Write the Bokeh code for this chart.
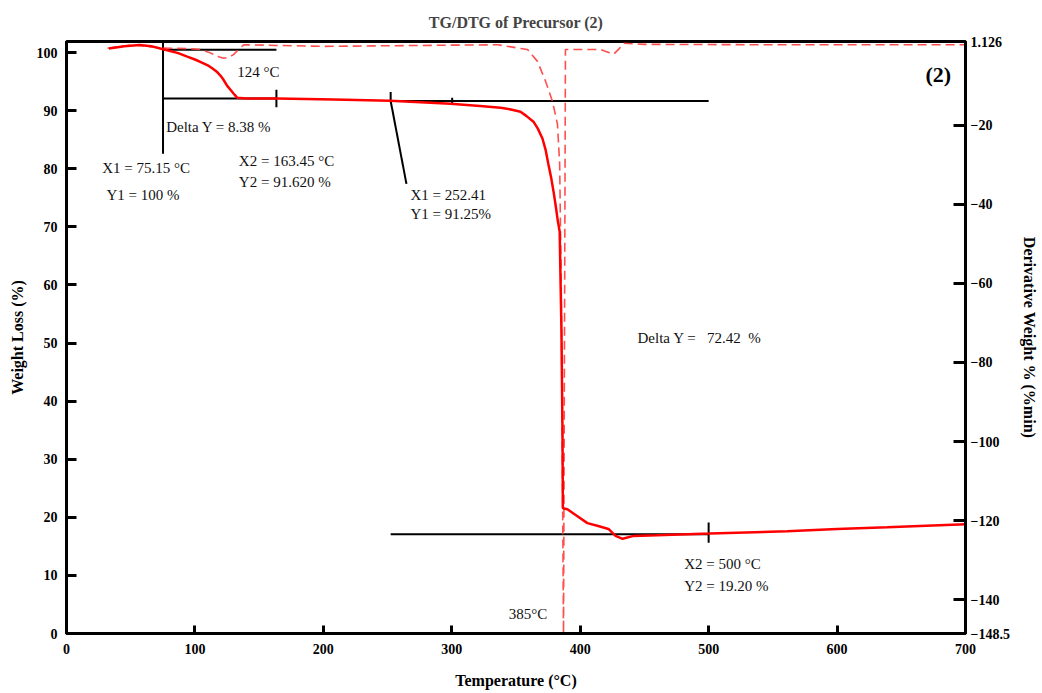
from bokeh.plotting import figure
from bokeh.models import Range1d, LinearAxis, FixedTicker, ColumnDataSource
from bokeh.core.properties import value
from bokeh.embed import file_html
from bokeh.resources import INLINE

# ---------------- data ----------------
# TG curve: temperature (°C) vs weight (%)
tg_temp = [33, 45, 57, 66, 73, 80, 87, 94, 100, 105,
           110, 114, 117, 120, 122, 125, 128, 131, 133, 140,
           164, 208, 252, 299, 322, 338, 346, 353.5, 358, 363.6,
           367, 370.6, 373, 375.3, 377.5, 379.2, 380.8, 382.3, 384, 385.4,
           386.2, 386.5, 387.5, 390, 397, 405.6, 414, 422, 427.5, 433,
           441.5, 460, 483.5, 501, 561, 600, 639, 700]
tg_weight = [100.7, 101.1, 101.3, 101.1, 100.7, 100.3, 99.9, 99.3, 98.8, 98.3,
             97.8, 97.2, 96.7, 96.0, 95.4, 94.3, 93.5, 92.7, 92.2, 92.1,
             92.1, 91.9, 91.7, 91.2, 90.8, 90.5, 90.2, 89.8, 89.1, 88.1,
             86.9, 85.2, 83.3, 80.7, 78.3, 76.1, 73.8, 71.4, 69.2, 52.0,
             34.8, 21.6, 21.5, 21.4, 20.3, 19.0, 18.5, 18.0, 16.8, 16.3,
             16.8, 16.9, 17.1, 17.2, 17.6, 18.0, 18.3, 18.8]

# DTG curve: temperature (°C) vs derivative weight (%/min)
dtg_temp = [32, 52, 73, 95, 104, 110, 115, 119, 122.5, 126,
            130, 134, 138, 200, 300, 336, 351, 359, 366.7, 373,
            378.4, 382.3, 384, 385.2, 386.2, 387, 388.5, 390, 416, 421,
            426, 430, 434, 450, 550, 700]
dtg_deriv = [-0.6, 0.3, -0.5, -0.7, -0.9, -1.5, -2.2, -2.8, -3.1, -2.9,
             -2.2, -0.9, 0.3, -0.1, 0.2, 0.3, -0.5, -0.9, -3.9, -8.9,
             -14.0, -19.8, -29.9, -60.0, -110.0, -148.5, -0.9, -0.9, -0.9, -1.5,
             -2.1, -0.8, 0.7, 0.4, 0.3, 0.3]

x_ticks = [0, 100, 200, 300, 400, 500, 600, 700]
left_ticks = [0, 10, 20, 30, 40, 50, 60, 70, 80, 90, 100]
right_ticks = [1.126, -20, -40, -60, -80, -100, -120, -140, -148.5]
right_tick_labels = ["1.126", "\u221220", "\u221240", "\u221260", "\u221280",
                     "\u2212100", "\u2212120", "\u2212140", "\u2212148.5"]

# annotation guide lines (x0, y0, x1, y1) in temperature / weight units
guide_x0 = [75.15, 75.15, 75.15, 163.45, 252.41, 252.41, 252.41, 300.3, 252.41, 500]
guide_y0 = [82.6, 100.5, 92.1, 90.6, 91.65, 91.65, 91.65, 91.2, 17.1, 15.6]
guide_x1 = [75.15, 163.45, 163.45, 163.45, 500, 252.41, 264.7, 300.3, 500, 500]
guide_y1 = [101.9, 100.5, 92.1, 93.6, 91.65, 93.2, 77.4, 92.2, 17.1, 19.1]

# annotation texts
ann_text = ["124 \u00b0C", "Delta Y = 8.38 %", "X1 = 75.15 \u00b0C", "Y1 = 100 %",
            "X2 = 163.45 \u00b0C", "Y2 = 91.620 %", "X1 = 252.41", "Y1 = 91.25%",
            "Delta Y =\u00a0\u00a0\u00a072.42\u00a0\u00a0%", "X2 = 500 \u00b0C",
            "Y2 = 19.20 %", "385\u00b0C"]
ann_x = [132.9, 77.6, 27.8, 31.1, 134.2, 134.2, 267.8, 267.8, 444.6, 481.0, 481.0, 344.4]
ann_y = [96.7, 87.1, 80.1, 75.5, 81.3, 77.8, 75.5, 72.2, 50.8, 11.9, 8.2, 3.3]

# ---------------- figure ----------------
SERIF = "Liberation Serif"

p = figure(width=1042, height=693,
           x_range=Range1d(0, 700), y_range=Range1d(0, 101.9),
           output_backend="svg", toolbar_location=None,
           min_border_left=66, min_border_right=77,
           min_border_top=40, min_border_bottom=60,
           title="TG/DTG of Precursor (2)")
p.extra_y_ranges = {"dtg": Range1d(-148.5, 1.126)}

p.title.align = "center"
p.title.text_font = SERIF
p.title.text_font_style = "bold"
p.title.text_font_size = "16px"
p.title.standoff = 22

p.xgrid.visible = False
p.ygrid.visible = False
p.outline_line_color = "black"
p.outline_line_width = 3
p.background_fill_color = "white"
p.border_fill_color = "white"

def style_axis(ax, tick_in):
    ax.axis_line_width = 3
    ax.axis_line_color = "black"
    ax.major_tick_line_width = 3
    ax.major_tick_line_color = "black"
    ax.major_tick_in = tick_in
    ax.major_tick_out = 0
    ax.minor_tick_line_color = None
    ax.major_label_text_font = SERIF
    ax.major_label_text_font_style = "bold"
    ax.major_label_text_font_size = "14px"
    ax.major_label_text_color = "black"
    ax.axis_label_text_font = SERIF
    ax.axis_label_text_font_style = "bold"
    ax.axis_label_text_font_size = "16px"
    ax.axis_label_text_color = "black"

xa = p.xaxis[0]
xa.ticker = FixedTicker(ticks=x_ticks)
xa.axis_label = "Temperature (\u00b0C)"
style_axis(xa, 8)
xa.major_label_standoff = 10
xa.axis_label_standoff = 15

ya = p.yaxis[0]
ya.ticker = FixedTicker(ticks=left_ticks)
ya.axis_label = "Weight Loss (%)"
style_axis(ya, 10)
ya.major_label_standoff = 9
ya.axis_label_standoff = 8

ra = LinearAxis(y_range_name="dtg", ticker=FixedTicker(ticks=right_ticks),
                axis_label="Derivative Weight % (%min)",
                major_label_overrides=dict(zip(right_ticks, right_tick_labels)))
style_axis(ra, 12)
ra.major_label_standoff = 5
ra.axis_label_standoff = 8
p.add_layout(ra, "right")

# guide lines
p.segment(x0=guide_x0, y0=guide_y0, x1=guide_x1, y1=guide_y1,
          line_color="black", line_width=2)

# DTG dashed curve
p.line(dtg_temp, dtg_deriv, y_range_name="dtg", line_color="#ff3b3b",
       line_width=1.6, line_dash="9 5", line_alpha=0.9)

# TG solid curve
p.line(tg_temp, tg_weight, line_color="#ff0000", line_width=2.5)

# annotations
src = ColumnDataSource(dict(x=ann_x, y=ann_y, t=ann_text))
p.text(x="x", y="y", text="t", source=src, text_font=value(SERIF),
       text_font_size="15px", text_align="left", text_baseline="middle",
       text_color="#111111")

p.text(x=[668.8], y=[96.3], text=["(2)"], text_font=value(SERIF),
       text_font_style="bold", text_font_size="22px", text_align="left",
       text_baseline="middle", text_color="black")

open("out.html", "w").write(file_html(p, INLINE))
